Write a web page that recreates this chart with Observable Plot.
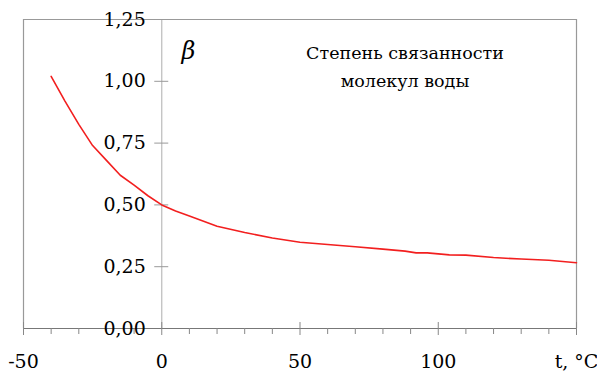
<!DOCTYPE html>
<html>
<head>
<meta charset="utf-8">
<script src="https://cdn.jsdelivr.net/npm/d3@7"></script>
<script src="https://cdn.jsdelivr.net/npm/@observablehq/plot@0.6"></script>
<style>
  html, body { margin: 0; padding: 0; background: #fff; }
  svg { display: block; }
</style>
</head>
<body>
<div id="chart"></div>
<script>
// Temperature, °C
const temperature = [-40, -35, -30, -25, -20, -15, -10, -5, 0, 5, 10, 20, 30, 40, 50, 60, 70, 80, 88, 92, 96, 104, 110, 120, 130, 140, 150];
// Degree of association β
const beta = [1.02, 0.92, 0.826, 0.74, 0.68, 0.62, 0.58, 0.537, 0.50, 0.475, 0.455, 0.414, 0.388, 0.366, 0.349, 0.34, 0.331, 0.321, 0.313, 0.306, 0.306, 0.298, 0.297, 0.287, 0.281, 0.276, 0.266];

const xMajorTicks = [-50, 0, 50, 100, 150];
const xMinorTicks = [-40, -30, -20, -10, 10, 20, 30, 40, 60, 70, 80, 90, 110, 120, 130, 140];
const xTickLabels = ["-50", "0", "50", "100", "t, °C"];
const yTicks = [0, 0.25, 0.5, 0.75, 1.0, 1.25];
const yTickLabels = ["0,00", "0,25", "0,50", "0,75", "1,00", "1,25"];
const titleText = "Степень связанности\nмолекул воды";
const yName = "β";

const data = temperature.map((t, i) => ({t, b: beta[i]}));
const xLab = xMajorTicks.map((v, i) => ({v, label: xTickLabels[i]}));
const yLab = yTicks.map((v, i) => ({v, label: yTickLabels[i]}));

const font = "DejaVu Serif";

const chart = Plot.plot({
  width: 597,
  height: 372,
  marginLeft: 23,
  marginRight: 21,
  marginTop: 19,
  marginBottom: 44,
  style: {background: "#fff", overflow: "visible"},
  x: {domain: [-50, 150], axis: null},
  y: {domain: [0, 1.25], axis: null},
  marks: [
    // frame
    Plot.ruleX([-50, 150], {y1: 0, y2: 1.25, stroke: "#999", strokeWidth: 1.2}),
    Plot.ruleY([1.25], {x1: -50, x2: 150, stroke: "#999", strokeWidth: 1.2}),
    // y axis at x = 0
    Plot.ruleX([0], {y1: 0, y2: 1.25, stroke: "#bbb", strokeWidth: 1.2}),
    Plot.ruleY(yTicks, {x1: 0, x2: 0, insetLeft: -7, insetRight: -7, stroke: "#999", strokeWidth: 1}),
    // x axis
    Plot.ruleY([0], {x1: -50, x2: 150, stroke: "#777", strokeWidth: 1.2}),
    Plot.ruleX(xMinorTicks, {y1: 0, y2: 0, insetTop: 0, insetBottom: -6, stroke: "#888", strokeWidth: 1}),
    Plot.ruleX(xMajorTicks, {y1: 0, y2: 0, insetTop: -6, insetBottom: -7, stroke: "#888", strokeWidth: 1}),
    // data line
    Plot.line(data, {x: "t", y: "b", stroke: "#f21f1f", strokeWidth: 1.6}),
    // y tick labels
    Plot.text(yLab, {x: () => 0, y: "v", text: "label", textAnchor: "end", dx: -16, fontSize: 19, fill: "#000"}),
    // x tick labels
    Plot.text(xLab, {x: "v", y: () => 0, text: "label", dy: 33, fontSize: 19, fill: "#000"}),
    // β label
    Plot.text([yName], {frameAnchor: "top-left", dx: 158, dy: 22, fontSize: 24, fontStyle: "italic", fill: "#000"}),
    // title annotation
    Plot.text([titleText], {frameAnchor: "top", dx: 105, dy: 19, lineAnchor: "top", lineHeight: 1.62, fontSize: 17.5, fill: "#000"})
  ]
});
chart.setAttribute("font-family", font);
chart.querySelectorAll("text, tspan").forEach(t => { t.style.fontFamily = font; });
document.getElementById("chart").appendChild(chart);
</script>
</body>
</html>
